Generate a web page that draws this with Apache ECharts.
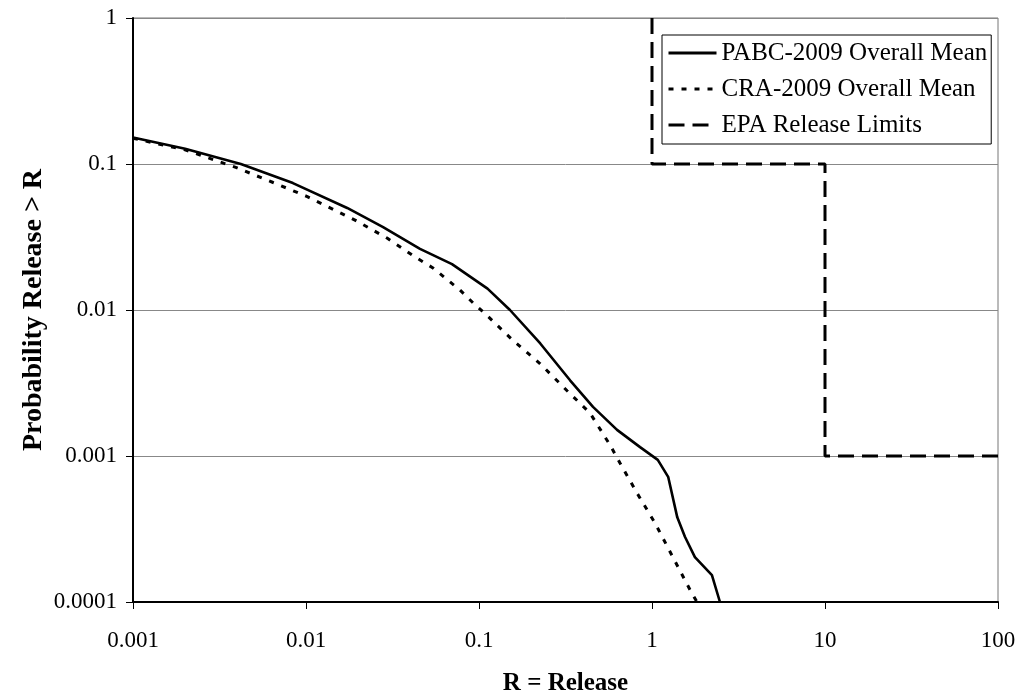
<!DOCTYPE html>
<html>
<head>
<meta charset="utf-8">
<script src="https://cdn.jsdelivr.net/npm/echarts@6/dist/echarts.min.js"></script>
<style>html,body{margin:0;padding:0;background:#fff;}#c{width:1020px;height:694px;}</style>
</head>
<body>
<div id="c"></div>
<script>
var xTickLabels = ['0.001', '0.01', '0.1', '1', '10', '100'];
var yTickLabels = ['0.0001', '0.001', '0.01', '0.1', '1'];

var seriesNames = ['PABC-2009 Overall Mean', 'CRA-2009 Overall Mean', 'EPA Release Limits'];

var pabcX = [0.001, 0.002, 0.0042, 0.0084, 0.0173, 0.0279, 0.0456, 0.0698, 0.112, 0.151, 0.226, 0.336, 0.456, 0.628, 0.853, 1.08, 1.24, 1.40, 1.55, 1.77, 2.22, 2.47];
var pabcY = [0.152, 0.127, 0.100, 0.074, 0.050, 0.037, 0.0262, 0.0206, 0.0140, 0.0100, 0.0059, 0.0033, 0.00217, 0.00151, 0.00115, 0.00094, 0.00072, 0.00038, 0.00028, 0.000203, 0.000153, 0.0001];

var craX = [0.001, 0.002, 0.004, 0.0064, 0.0101, 0.0192, 0.0294, 0.0427, 0.0542, 0.0776, 0.0923, 0.111, 0.157, 0.225, 0.323, 0.438, 0.572, 0.653, 0.819, 1.04, 1.32, 1.66, 1.82];
var craY = [0.150, 0.125, 0.094, 0.075, 0.060, 0.0413, 0.0311, 0.0231, 0.0194, 0.0137, 0.0112, 0.0092, 0.0062, 0.0043, 0.0028, 0.00197, 0.00119, 0.000895, 0.000558, 0.000348, 0.000203, 0.000121, 0.0001];

var epaX = [1, 1, 10, 10, 100];
var epaY = [1, 0.1, 0.1, 0.001, 0.001];

function zip(a, b) { return a.map(function (v, i) { return [v, b[i]]; }); }
function decIdx(v) { return Math.round(Math.log(v) / Math.LN10); }

var FONT = 'Liberation Serif';
var chart = echarts.init(document.getElementById('c'), null, { renderer: 'canvas' });
chart.setOption({
  backgroundColor: '#fff',
  animation: false,
  textStyle: { fontFamily: FONT, color: '#000' },
  grid: { left: 133, right: 22, top: 18, bottom: 92, show: true, borderColor: '#777', borderWidth: 1,
    containLabel: false, outerBoundsMode: 'none' },
  legend: {
    orient: 'vertical',
    left: 662, top: 35,
    backgroundColor: '#fff',
    borderColor: '#000', borderWidth: 1,
    padding: [5, 4, 6, 5],
    itemWidth: 48, itemHeight: 14, itemGap: 10,
    itemStyle: { color: 'rgba(0,0,0,0)', borderWidth: 0, opacity: 0 },
    lineStyle: { width: 3, color: '#000' },
    textStyle: { fontFamily: FONT, fontSize: 25, color: '#000', lineHeight: 26 },
    data: seriesNames
  },
  xAxis: {
    type: 'log', logBase: 10, min: 0.001, max: 100,
    name: 'R = Release', nameLocation: 'middle', nameGap: 69, nameMoveOverlap: false,
    nameTextStyle: { fontFamily: FONT, fontSize: 25, fontWeight: 'bold', color: '#000' },
    axisLine: { show: true, lineStyle: { color: '#000', width: 2 } },
    axisTick: { show: true, inside: false, length: 7, lineStyle: { color: '#000', width: 1 } },
    axisLabel: { margin: 27, fontFamily: FONT, fontSize: 23, color: '#000',
      formatter: function (v) { return xTickLabels[decIdx(v) + 3]; } },
    splitLine: { show: false },
    minorTick: { show: false }
  },
  yAxis: {
    type: 'log', logBase: 10, min: 0.0001, max: 1,
    name: 'Probability Release > R', nameLocation: 'middle', nameGap: 85, nameMoveOverlap: false,
    nameTextStyle: { fontFamily: FONT, fontSize: 28, fontWeight: 'bold', color: '#000' },
    axisLine: { show: true, lineStyle: { color: '#000', width: 2 } },
    axisTick: { show: true, inside: false, length: 7, lineStyle: { color: '#000', width: 1 } },
    axisLabel: { margin: 16, fontFamily: FONT, fontSize: 23, color: '#000',
      formatter: function (v) { return yTickLabels[decIdx(v) + 4]; } },
    splitLine: { show: true, lineStyle: { color: '#888', width: 1 } }
  },
  series: [
    { name: seriesNames[0], type: 'line', data: zip(pabcX, pabcY), symbol: 'none', smooth: false,
      lineStyle: { color: '#000', width: 2.6, type: 'solid' }, itemStyle: { color: '#000' }, z: 4 },
    { name: seriesNames[1], type: 'line', data: zip(craX, craY), symbol: 'none',
      lineStyle: { color: '#000', width: 3, type: [5, 8] }, itemStyle: { color: '#000' }, z: 3 },
    { name: seriesNames[2], type: 'line', data: zip(epaX, epaY), symbol: 'none',
      lineStyle: { color: '#000', width: 3, type: [16, 8] }, itemStyle: { color: '#000' }, z: 3 }
  ]
});
</script>
</body>
</html>
